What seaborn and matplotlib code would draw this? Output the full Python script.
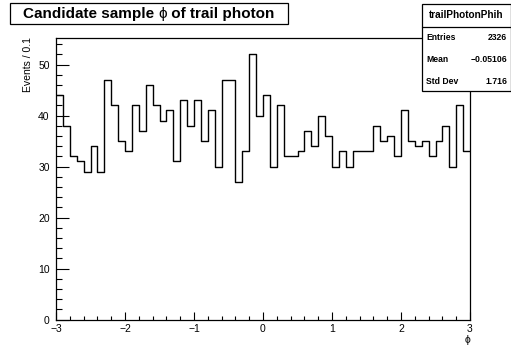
import numpy as np
import pandas as pd
import matplotlib
matplotlib.use("Agg")
import matplotlib.pyplot as plt
from matplotlib.patches import Rectangle
from matplotlib.lines import Line2D
from matplotlib.ticker import MultipleLocator
import seaborn as sns

# ---- data ----
bin_low = -3.0
bin_high = 3.0
n_bins = 60
counts = [44, 38, 32, 31, 29, 34, 29, 47, 42, 35, 33, 42, 37, 46, 42, 39, 41, 31, 43, 38,
          43, 35, 41, 30, 47, 47, 27, 33, 52, 40, 44, 30, 42, 32, 32, 33, 37, 34, 40, 36,
          30, 33, 30, 33, 33, 33, 38, 35, 36, 32, 41, 35, 34, 35, 32, 35, 38, 30, 42, 33]
title_parts = ["Candidate sample ", "\u03d5", " of trail photon"]
stats_name = "trailPhotonPhih"
stats_labels = ["Entries", "Mean", "Std Dev"]
stats_values = ["2326", "\u22120.05106", "1.716"]
x_label = "\u03d5"
y_label = "Events / 0.1"
x_ticks = [-3, -2, -1, 0, 1, 2, 3]
x_ticklabels = ["\u22123", "\u22122", "\u22121", "0", "1", "2", "3"]
y_ticks = [0, 10, 20, 30, 40, 50]

edges = np.linspace(bin_low, bin_high, n_bins + 1)
centers = 0.5 * (edges[:-1] + edges[1:])
df = pd.DataFrame({"phi": centers, "n": counts})

sns.set_style("white")
plt.rcParams["font.family"] = ["Liberation Sans", "DejaVu Sans"]
plt.rcParams["text.color"] = "black"
plt.rcParams["axes.labelcolor"] = "black"
plt.rcParams["xtick.color"] = "black"
plt.rcParams["ytick.color"] = "black"

fig = plt.figure(figsize=(5.11, 3.48), dpi=100)
ax = fig.add_axes([56 / 511, 1 - 319.5 / 348, (470 - 56) / 511, (319.5 - 37.5) / 348])

sns.histplot(data=df, x="phi", weights="n", binwidth=(bin_high - bin_low) / n_bins,
             binrange=(bin_low, bin_high), element="step", fill=False,
             color="black", linewidth=1.0, ax=ax)

ax.set_xlim(bin_low, bin_high)
ax.set_ylim(0, 55.3)
ax.set_xticks(x_ticks)
ax.set_xticklabels(x_ticklabels)
ax.set_yticks(y_ticks)
ax.xaxis.set_minor_locator(MultipleLocator(0.2))
ax.yaxis.set_minor_locator(MultipleLocator(2))
ax.tick_params(axis="x", which="major", direction="in", length=6, width=0.8,
               labelsize=7.5, pad=3, bottom=True, top=False)
ax.tick_params(axis="x", which="minor", direction="in", length=3, width=0.8,
               bottom=True, top=False)
ax.tick_params(axis="y", which="major", direction="in", length=9, width=0.8,
               labelsize=7.5, pad=4.5, left=True, right=False)
ax.tick_params(axis="y", which="minor", direction="in", length=4.5, width=0.8,
               left=True, right=False)
for s in ax.spines.values():
    s.set_visible(True)
    s.set_color("black")
    s.set_linewidth(0.9)

ax.set_xlabel(x_label, loc="right", fontsize=7.5, labelpad=1)
ax.set_ylabel(y_label, loc="top", fontsize=7.5)
ax.yaxis.set_label_coords(-(56 - 33) / 414, 1.0)

# title box
fig.add_artist(Rectangle((10 / 511, 1 - 24 / 348), 278 / 511, 21 / 348,
                         transform=fig.transFigure, facecolor="white",
                         edgecolor="black", linewidth=0.9, zorder=5))
fig.canvas.draw()
renderer = fig.canvas.get_renderer()
weights_ = ["bold", "normal", "bold"]
tmp = []
for part, w in zip(title_parts, weights_):
    t = fig.text(0, 0, part, fontsize=11, fontweight=w)
    tmp.append(t)
widths = [t.get_window_extent(renderer).width for t in tmp]
for t in tmp:
    t.remove()
total = sum(widths)
x0 = 149 - total / 2
for part, w, wd in zip(title_parts, weights_, widths):
    fig.text(x0 / 511, 1 - 14 / 348, part, ha="left", va="center",
             fontsize=11, fontweight=w, zorder=6)
    x0 += wd

# stats box
fig.add_artist(Rectangle((422 / 511, 1 - 91 / 348), 88.5 / 511, 87 / 348,
                         transform=fig.transFigure, facecolor="white",
                         edgecolor="black", linewidth=0.9, zorder=5))
fig.add_artist(Line2D([422 / 511, 1.0], [1 - 27 / 348, 1 - 27 / 348],
                      transform=fig.transFigure, color="black", linewidth=0.9, zorder=6))
fig.text(466.5 / 511, 1 - 15 / 348, stats_name, ha="center", va="center",
         fontsize=7.2, fontweight="bold", zorder=7)
row_y = [38, 59, 81]
for lab, val, yy in zip(stats_labels, stats_values, row_y):
    fig.text(426 / 511, 1 - yy / 348, lab, ha="left", va="center",
             fontsize=6.2, fontweight="bold", zorder=7)
    fig.text(507 / 511, 1 - yy / 348, val, ha="right", va="center",
             fontsize=6.2, fontweight="bold", zorder=7)

fig.savefig("out.png", dpi=100)
